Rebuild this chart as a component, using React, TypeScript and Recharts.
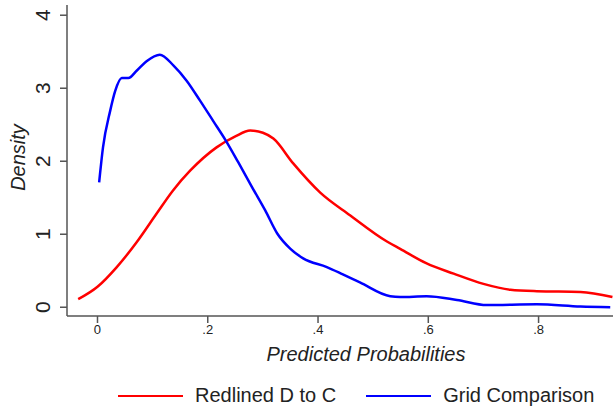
import React from "react";
import { Line, LineChart, XAxis, YAxis } from "recharts";

const redX = [-0.035, 0, 0.035, 0.071, 0.107, 0.137, 0.168, 0.216, 0.25, 0.277, 0.3, 0.319, 0.355, 0.404, 0.458, 0.525, 0.549, 0.597, 0.646, 0.7, 0.749, 0.797, 0.876, 0.934];
const redY = [0.11, 0.28, 0.55, 0.89, 1.28, 1.6, 1.87, 2.19, 2.34, 2.42, 2.39, 2.31, 1.97, 1.57, 1.26, 0.9, 0.8, 0.6, 0.46, 0.32, 0.24, 0.22, 0.21, 0.14];

const blueX = [0.003, 0.01, 0.023, 0.032, 0.044, 0.056, 0.071, 0.089, 0.113, 0.138, 0.162, 0.186, 0.21, 0.233, 0.255, 0.28, 0.304, 0.326, 0.35, 0.373, 0.416, 0.445, 0.476, 0.531, 0.549, 0.597, 0.652, 0.706, 0.797, 0.876, 0.93];
const blueY = [1.71, 2.19, 2.69, 2.96, 3.14, 3.14, 3.24, 3.37, 3.46, 3.31, 3.1, 2.83, 2.55, 2.28, 1.99, 1.65, 1.33, 1.01, 0.8, 0.67, 0.55, 0.45, 0.34, 0.15, 0.14, 0.15, 0.1, 0.03, 0.04, 0.01, 0.0];

const xTicks = [0, 0.2, 0.4, 0.6, 0.8];
const yTicks = [0, 1, 2, 3, 4];

const seriesNames = ["Redlined D to C", "Grid Comparison"];
const seriesColors = ["#ff0000", "#0000ff"];

const redData = redX.map((x, i) => ({ x, y: redY[i] }));
const blueData = blueX.map((x, i) => ({ x, y: blueY[i] }));

const FONT = "'Liberation Sans', Arial, sans-serif";
const AXIS = "#555555";

const fmtX = (v: number) => (v === 0 ? "0" : String(v).replace(/^0/, ""));

function YTick(props: any) {
  const { y, payload } = props;
  const cx = 43;
  return (
    <text
      x={cx}
      y={y}
      transform={`rotate(-90, ${cx}, ${y})`}
      textAnchor="middle"
      dominantBaseline="central"
      fontSize={21}
      fontFamily={FONT}
      fill="#222"
    >
      {payload.value}
    </text>
  );
}

function LegendBox() {
  return (
    <div
      style={{
        position: "absolute",
        left: 0,
        top: 384,
        width: 613,
        display: "flex",
        alignItems: "center",
        paddingLeft: 118,
        fontFamily: FONT,
        fontSize: 20,
        color: "#222",
      }}
    >
      {seriesNames.map((name, i) => (
        <div key={name} style={{ display: "flex", alignItems: "center", marginRight: i === 0 ? 30 : 0 }}>
          <span style={{ display: "inline-block", width: 65, height: 2, background: seriesColors[i], marginRight: 12 }} />
          <span>{name}</span>
        </div>
      ))}
    </div>
  );
}

export default function App() {
  return (
    <div style={{ position: "absolute", left: 0, top: 0, width: 613, height: 413, background: "#fff" }}>
      <LineChart width={613} height={413} margin={{ top: 5, right: 0, left: 7, bottom: 67 }}>
        <XAxis
          type="number"
          dataKey="x"
          domain={[-0.0553, 0.935]}
          ticks={xTicks}
          tickFormatter={fmtX}
          allowDataOverflow
          height={30}
          stroke={AXIS}
          strokeWidth={1.5}
          tickSize={7}
          tick={{ fontSize: 13, fontFamily: FONT, fill: "#222" }}
          label={{
            content: ({ viewBox }: any) => (
              <text
                x={viewBox.x + viewBox.width / 2 + 26}
                y={viewBox.y + 38}
                textAnchor="middle"
                dominantBaseline="central"
                fontSize={20}
                fontStyle="italic"
                fontFamily={FONT}
                fill="#222"
              >
                Predicted Probabilities
              </text>
            ),
          }}
        />
        <YAxis
          type="number"
          dataKey="y"
          domain={[-0.12, 4.14]}
          ticks={yTicks}
          allowDataOverflow
          width={60}
          stroke={AXIS}
          strokeWidth={1.5}
          tickSize={7}
          tick={<YTick />}
          label={{
            content: ({ viewBox }: any) => (
              <text
                x={viewBox.x + 11}
                y={viewBox.y + viewBox.height / 2 - 3}
                transform={`rotate(-90, ${viewBox.x + 11}, ${viewBox.y + viewBox.height / 2 - 3})`}
                textAnchor="middle"
                dominantBaseline="central"
                fontSize={20}
                fontStyle="italic"
                fontFamily={FONT}
                fill="#222"
              >
                Density
              </text>
            ),
          }}
        />
        <Line data={redData} dataKey="y" name={seriesNames[0]} type="monotone" stroke={seriesColors[0]} strokeWidth={2.5} dot={false} isAnimationActive={false} />
        <Line data={blueData} dataKey="y" name={seriesNames[1]} type="monotone" stroke={seriesColors[1]} strokeWidth={2.5} dot={false} isAnimationActive={false} />
      </LineChart>
      <LegendBox />
    </div>
  );
}
